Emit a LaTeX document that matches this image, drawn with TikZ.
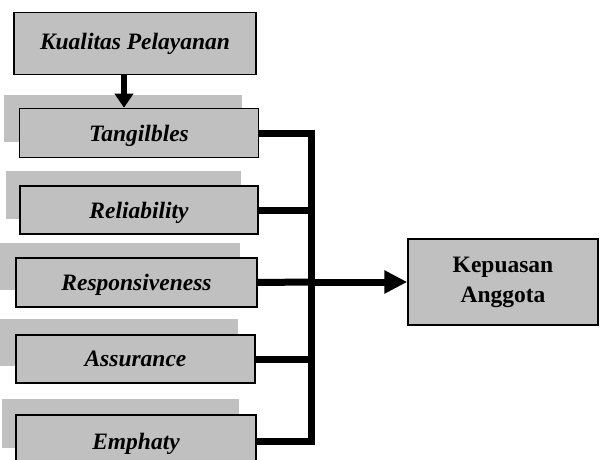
\documentclass[tikz,border=0pt]{standalone}
\usepackage{fontspec}
\setmainfont{Liberation Serif}
\usetikzlibrary{arrows.meta}
\definecolor{boxgray}{HTML}{C0C0C0}
\tikzset{
  dimbox/.style={draw=black, line width=1.5pt, fill=boxgray, inner sep=0pt,
    font=\fontsize{23.5}{28}\selectfont\bfseries\itshape},
  dimsub/.style={dimbox, text depth=0pt},
  resbox/.style={draw=black, line width=1.5pt, fill=boxgray, inner sep=0pt, align=center,
    font=\fontsize{23.5}{30}\selectfont\bfseries},
  shadowbox/.style={fill=boxgray},
  conn/.style={line width=7pt, black},
  arr/.style={line width=7pt, black, -{Triangle[length=23pt,width=22pt]}},
  darr/.style={line width=6.5pt, black, -{Triangle[length=14pt,width=18pt]}}
}
\begin{document}
\begin{tikzpicture}[x=1pt,y=-1pt]
\useasboundingbox (0,0) rectangle (600,460);
\clip (0,0) rectangle (600,460);
% shadows
\fill[shadowbox] (4,95) rectangle (242,142);
\fill[shadowbox] (6,171) rectangle (241,219);
\fill[shadowbox] (0,243) rectangle (240,290);
\fill[shadowbox] (0,319) rectangle (238,366);
\fill[shadowbox] (2,399) rectangle (239,448);
% boxes
\node[dimbox, minimum width=242pt, minimum height=62pt] (kp) at (135,43.5) {Kualitas Pelayanan};
\node[dimsub, minimum width=239pt, minimum height=49pt] (t) at (139,133) {Tangilbles};
\node[dimsub, minimum width=238pt, minimum height=48pt] (rl) at (139,210) {Reliability};
\node[dimsub, minimum width=241pt, minimum height=49pt] (rs) at (136.5,282.5) {Responsiveness};
\node[dimsub, minimum width=239pt, minimum height=48pt] (as) at (135.5,359) {Assurance};
\node[dimsub, minimum width=240pt, minimum height=52pt] (em) at (136,441) {Emphaty};
\node[resbox, minimum width=190pt, minimum height=86pt] (kag) at (503,282) {Kepuasan\\Anggota};
\coordinate (bus) at (311,282);
% connectors
\draw[darr] (kp.south -| 124,0) -- (t.north -| 124,0);
\draw[conn] (t.east) -| (em.east -| bus) -- (em.east);
\draw[conn] (rl.east) -- (rl.east -| bus);
\draw[conn] (as.east) -- (as.east -| bus);
\draw[conn] (rs.east) -- (bus);
\draw[arr] (bus) -- (kag.west |- bus);
\end{tikzpicture}
\end{document}
